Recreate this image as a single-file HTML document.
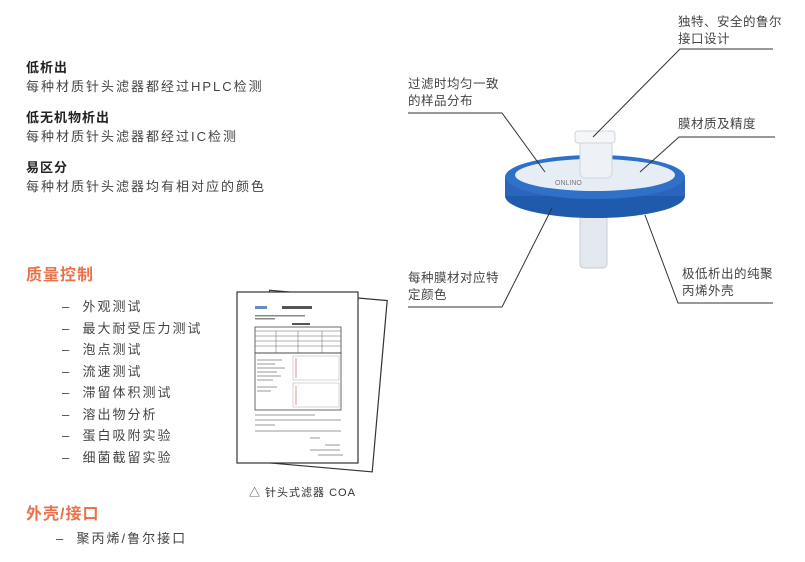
<!DOCTYPE html>
<html><head><meta charset="utf-8"><style>
body{margin:0;width:805px;height:562px;background:#fff;position:relative;overflow:hidden;font-family:"Liberation Sans","Noto Sans CJK SC",sans-serif;color:#333}
.a{position:absolute;white-space:nowrap}
.h{font-weight:bold;font-size:13px;color:#222;letter-spacing:1px}
.b{font-size:13px;color:#444;letter-spacing:2px}
.o{font-weight:bold;font-size:16px;color:#e8734a;letter-spacing:1px}
.l{font-size:13px;color:#444;letter-spacing:2px;line-height:21.5px}
.c{font-size:12.5px;color:#444;line-height:17px;letter-spacing:.5px}
</style></head><body>
<div class="a h" style="left:26px;top:57px">低析出</div>
<div class="a b" style="left:26px;top:76px">每种材质针头滤器都经过HPLC检测</div>
<div class="a h" style="left:26px;top:107px">低无机物析出</div>
<div class="a b" style="left:26px;top:126px">每种材质针头滤器都经过IC检测</div>
<div class="a h" style="left:26px;top:157px">易区分</div>
<div class="a b" style="left:26px;top:176px">每种材质针头滤器均有相对应的颜色</div>
<div class="a o" style="left:26px;top:261px">质量控制</div>
<div class="a l" style="left:62px;top:296px">–&nbsp; 外观测试<br>–&nbsp; 最大耐受压力测试<br>–&nbsp; 泡点测试<br>–&nbsp; 流速测试<br>–&nbsp; 滞留体积测试<br>–&nbsp; 溶出物分析<br>–&nbsp; 蛋白吸附实验<br>–&nbsp; 细菌截留实验</div>
<div class="a o" style="left:26px;top:500px">外壳/接口</div>
<div class="a l" style="left:56px;top:528px">–&nbsp; 聚丙烯/鲁尔接口</div>
<div class="a" style="left:249px;top:484px;font-size:11px;color:#333;letter-spacing:1px">△ 针头式滤器 COA</div>
<svg class="a" style="left:0;top:0" width="805" height="562">
<g transform="rotate(5 320 380)"><rect x="262" y="295" width="118" height="172" fill="#fff" stroke="#333" stroke-width="1.2"/></g>
<rect x="237" y="292" width="121" height="171" fill="#fff" stroke="#333" stroke-width="1.2"/>
<rect x="255" y="306" width="12" height="3" fill="#6b8cc0"/><rect x="282" y="306" width="30" height="3" fill="#555"/>
<rect x="255" y="315" width="50" height="1.5" fill="#888"/><rect x="255" y="318" width="20" height="1.5" fill="#888"/>
<rect x="292" y="323" width="18" height="2" fill="#555"/>
<rect x="255" y="327" width="86" height="26" fill="none" stroke="#444" stroke-width=".8"/>
<path d="M255 331H341M255 336H341M255 341H341M255 346H341M276 331V353M298 331V353M322 331V353" stroke="#666" stroke-width=".5"/>
<rect x="255" y="353" width="86" height="57" fill="none" stroke="#444" stroke-width=".8"/>
<rect x="293" y="356" width="46" height="24" fill="none" stroke="#aaa" stroke-width=".5"/>
<rect x="293" y="383" width="46" height="24" fill="none" stroke="#aaa" stroke-width=".5"/>
<path d="M296 358V378M296 386V405" stroke="#c66" stroke-width=".7"/>
<path d="M257 360h25M257 364h18M257 368h28M257 372h20M257 376h24M257 380h16M257 387h20M257 391h14" stroke="#999" stroke-width="1"/>
<path d="M255 415h60M255 420h86M255 425h20M255 431h86M310 438h10M325 445h15M310 450h30M318 455h25" stroke="#999" stroke-width="1"/>
<rect x="580" y="210" width="27" height="58" rx="4" fill="#e3e8ee" stroke="#c5ccd4"/>
<ellipse cx="595" cy="196" rx="90" ry="22" fill="#1f5aad"/>
<rect x="505" y="177" width="180" height="19" fill="#2a64bb"/>
<ellipse cx="595" cy="177" rx="90" ry="22" fill="#2f70c8"/>
<ellipse cx="595" cy="175" rx="80" ry="16" fill="#e7edf5"/>
<text x="555" y="185" font-size="7" fill="#777">ONLINO</text>
<rect x="580" y="140" width="32" height="38" rx="5" fill="#eef1f5" stroke="#cfd5dc"/>
<rect x="575" y="131" width="40" height="12" rx="3" fill="#f4f6f8" stroke="#cfd5dc"/>
<g stroke="#333" stroke-width="1" fill="none">
<polyline points="773,49 680,49 593,137"/>
<polyline points="775,137 679,137 640,172"/>
<polyline points="408,113 502,113 545,172"/>
<polyline points="408,307 502,307 552,208"/>
<polyline points="773,303 678,303 645,215"/>
</g>
</svg>
<div class="a c" style="left:678px;top:14px">独特、安全的鲁尔<br>接口设计</div>
<div class="a c" style="left:678px;top:116px">膜材质及精度</div>
<div class="a c" style="left:408px;top:76px">过滤时均匀一致<br>的样品分布</div>
<div class="a c" style="left:408px;top:270px">每种膜材对应特<br>定颜色</div>
<div class="a c" style="left:682px;top:266px">极低析出的纯聚<br>丙烯外壳</div>
</body></html>
